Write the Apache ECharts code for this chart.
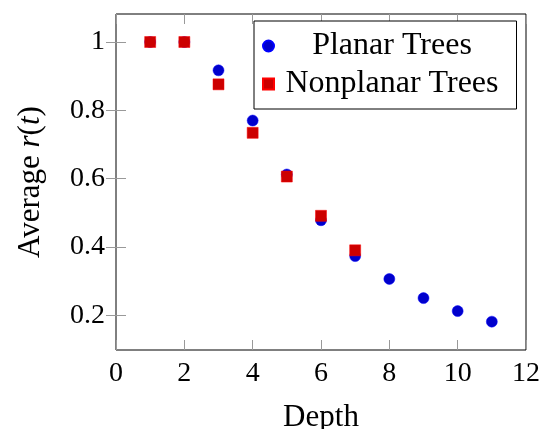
<!DOCTYPE html>
<html>
<head>
<meta charset="utf-8">
<script src="https://cdn.jsdelivr.net/npm/echarts@6/dist/echarts.min.js"></script>
<style>
  html, body { margin: 0; padding: 0; background: #fff; }
  #chart { width: 542px; height: 429px; }
</style>
</head>
<body>
<div id="chart"></div>
<script>
var planarDepth = [1, 2, 3, 4, 5, 6, 7, 8, 9, 10, 11];
var planarR = [1, 1, 0.917, 0.77, 0.612, 0.478, 0.373, 0.306, 0.25, 0.212, 0.181];
var nonplanarDepth = [1, 2, 3, 4, 5, 6, 7];
var nonplanarR = [1, 1, 0.876, 0.734, 0.606, 0.491, 0.39];
var xTicks = [0, 2, 4, 6, 8, 10, 12];
var yTicks = [0.2, 0.4, 0.6, 0.8, 1];

var font = 'Liberation Serif';

function pairs(xs, ys) {
  return xs.map(function (x, i) { return [x, ys[i]]; });
}

var chartDom = document.getElementById('chart');
var myChart = echarts.init(chartDom);
var option;

var tickStyle = { show: true, inside: true, length: 10, lineStyle: { color: '#999', width: 1 } };

option = {
  animation: false,
  textStyle: { fontFamily: font },
  grid: {
    left: 116, right: 16, top: 14, bottom: 79,
    outerBoundsMode: 'none',
    containLabel: false,
    show: true, borderColor: '#000', borderWidth: 1, backgroundColor: 'transparent'
  },
  legend: {
    orient: 'vertical',
    left: 254,
    top: 21,
    padding: [9, 18, 9, 8],
    itemGap: 6,
    itemWidth: 11,
    itemHeight: 11,
    borderColor: '#000',
    borderWidth: 1,
    backgroundColor: '#fff',
    data: [
      { name: 'Planar Trees', icon: 'circle' },
      { name: 'Nonplanar Trees', icon: 'rect' }
    ],
    formatter: function (name) { return '{a|' + name + '}'; },
    textStyle: {
      fontFamily: font,
      rich: { a: { fontFamily: font, fontSize: 32, color: '#000', width: 226, align: 'center' } }
    }
  },
  xAxis: [
    {
      type: 'value', min: 0, max: 12, interval: 2,
      name: 'Depth', nameLocation: 'middle', nameGap: 52,
      nameTextStyle: { fontFamily: font, fontSize: 31, color: '#000' },
      axisLine: { show: false },
      axisTick: tickStyle,
      axisLabel: { fontFamily: font, fontSize: 28, color: '#000', margin: 10,
        customValues: xTicks },
      splitLine: { show: false }
    },
    {
      type: 'value', min: 0, max: 12, interval: 2, position: 'top',
      axisLine: { show: false },
      axisTick: tickStyle,
      axisLabel: { show: false },
      splitLine: { show: false }
    }
  ],
  yAxis: [
    {
      type: 'value', min: 0.098, max: 1.082,
      name: 'Average {i|r}({i|t})', nameLocation: 'middle', nameGap: 70,
      nameTextStyle: {
        fontFamily: font, fontSize: 31, color: '#000',
        rich: { i: { fontFamily: font, fontSize: 31, fontStyle: 'italic', color: '#000' } }
      },
      axisLine: { show: false },
      axisTick: Object.assign({ customValues: yTicks }, tickStyle),
      axisLabel: { fontFamily: font, fontSize: 28, color: '#000', margin: 11,
        customValues: yTicks },
      splitLine: { show: false }
    },
    {
      type: 'value', min: 0.098, max: 1.082, position: 'right',
      axisLine: { show: false },
      axisTick: Object.assign({ customValues: yTicks }, tickStyle),
      axisLabel: { show: false },
      splitLine: { show: false }
    }
  ],
  series: [
    {
      name: 'Planar Trees',
      type: 'scatter',
      symbol: 'circle',
      symbolSize: 11,
      itemStyle: { color: '#0000cc', borderColor: '#0000ff', borderWidth: 0.5, opacity: 1 },
      data: pairs(planarDepth, planarR)
    },
    {
      name: 'Nonplanar Trees',
      type: 'scatter',
      symbol: 'rect',
      symbolSize: 11,
      itemStyle: { color: '#cc0000', borderColor: '#ff0000', borderWidth: 0.5, opacity: 1 },
      data: pairs(nonplanarDepth, nonplanarR)
    }
  ]
};

option && myChart.setOption(option);
</script>
</body>
</html>
